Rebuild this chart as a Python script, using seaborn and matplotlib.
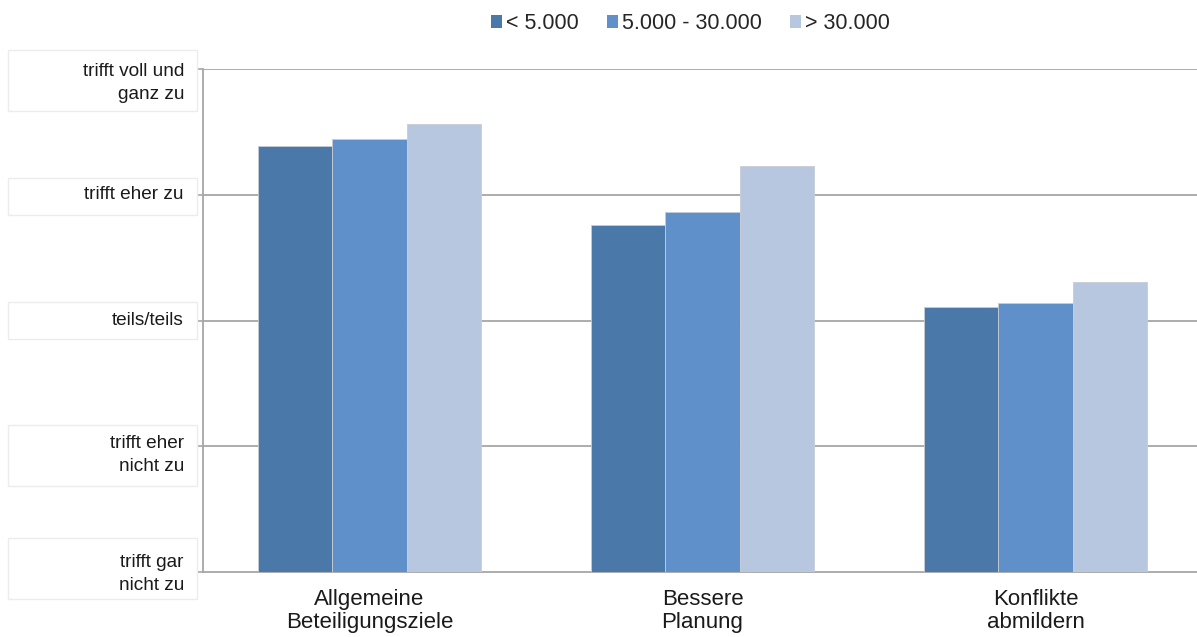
import matplotlib
matplotlib.use("Agg")
import matplotlib.pyplot as plt
from matplotlib.patches import Rectangle
from matplotlib.ticker import FixedLocator
import seaborn as sns
import pandas as pd

# Survey results: mean agreement per goal, by municipality size
categories = ["Allgemeine\nBeteiligungsziele", "Bessere\nPlanung", "Konflikte\nabmildern"]
groups = ["< 5.000", "5.000 - 30.000", "> 30.000"]
small = [4.39, 3.76, 3.11]
medium = [4.44, 3.86, 3.14]
large = [4.56, 4.23, 3.31]

scale_values = [1, 2, 3, 4, 5]
scale_labels = ["trifft gar\nnicht zu", "trifft eher\nnicht zu", "teils/teils",
                "trifft eher zu", "trifft voll und\nganz zu"]

palette = ["#4a78a8", "#5f90c9", "#b8c7e0"]

df = pd.DataFrame({
    "Ziel": categories * 3,
    "Größe": [g for g in groups for _ in categories],
    "Wert": small + medium + large,
})

sns.set_theme(style="white")
plt.rcParams["font.family"] = ["Liberation Sans", "DejaVu Sans"]

fig = plt.figure(figsize=(11.97, 6.37), dpi=100)
ax = fig.add_axes([203 / 1197, 1 - 572 / 637, 994 / 1197, (572 - 69) / 637])

# Bars grow from the bottom of the scale (value 1)
df["Höhe"] = df["Wert"] - 1
sns.barplot(data=df, x="Ziel", y="Höhe", hue="Größe", palette=palette,
            width=0.667, gap=0, saturation=1, ax=ax, bottom=1,
            edgecolor="#c8ccd4", linewidth=0.6, legend=False, zorder=3)

ax.set_ylim(1, 5)
ax.set_xlim(-0.5, 2.485)
ax.set_xlabel("")
ax.set_ylabel("")

grid_c = "#a6a6a6"
for v in scale_values[1:]:
    ax.axhline(v, color=grid_c, lw=1.3, zorder=1)

for side in ["top", "right"]:
    ax.spines[side].set_visible(False)
for side in ["left", "bottom"]:
    ax.spines[side].set_color(grid_c)
    ax.spines[side].set_linewidth(1.3)

# Category labels centred, small tick marks at the category boundaries
ax.set_xticks(range(len(categories)))
ax.set_xticklabels(categories, fontsize=16, color="#1a1a1a", linespacing=1.15)
ax.tick_params(axis="x", which="major", length=0, pad=12)
ax.xaxis.set_minor_locator(FixedLocator([-0.5, 0.5, 1.5]))
ax.tick_params(axis="x", which="minor", length=6, width=1.2, color=grid_c, direction="out")

ax.set_yticks(scale_values)
ax.set_yticklabels([])
ax.tick_params(axis="y", length=6, width=1.2, color=grid_c, direction="out", left=True)

# Scale labels in framed boxes left of the axis
box_specs = {1: (-4, 61), 2: (9, 61), 3: (0, 37), 4: (2, 37), 5: (11, 61)}
text_shift = {1: 2, 2: 9, 3: 0, 4: 0, 5: 14}
fig.canvas.draw()
for v, lab in zip(scale_values, scale_labels):
    _, ypix = ax.transData.transform((0, v))
    dy, h = box_specs[v]
    cy = ypix - dy
    fig.patches.append(Rectangle((8, cy - h / 2), 189, h, transform=None,
                                 facecolor="white", edgecolor="#ececec", lw=1.0, zorder=0))
    fig.text(184 / 1197, (ypix - text_shift[v]) / 637, lab, ha="right", va="center",
             fontsize=13.7, color="#1a1a1a", linespacing=1.45)

handles = [Rectangle((0, 0), 1, 1, facecolor=c, edgecolor="none") for c in palette]
fig.legend(handles, groups, loc="center", bbox_to_anchor=(0.577, 0.963), ncol=3,
           frameon=False, fontsize=15.5, handlelength=0.5, handleheight=0.5,
           handletextpad=0.2, columnspacing=1.3)

fig.savefig("out.png", dpi=100)
